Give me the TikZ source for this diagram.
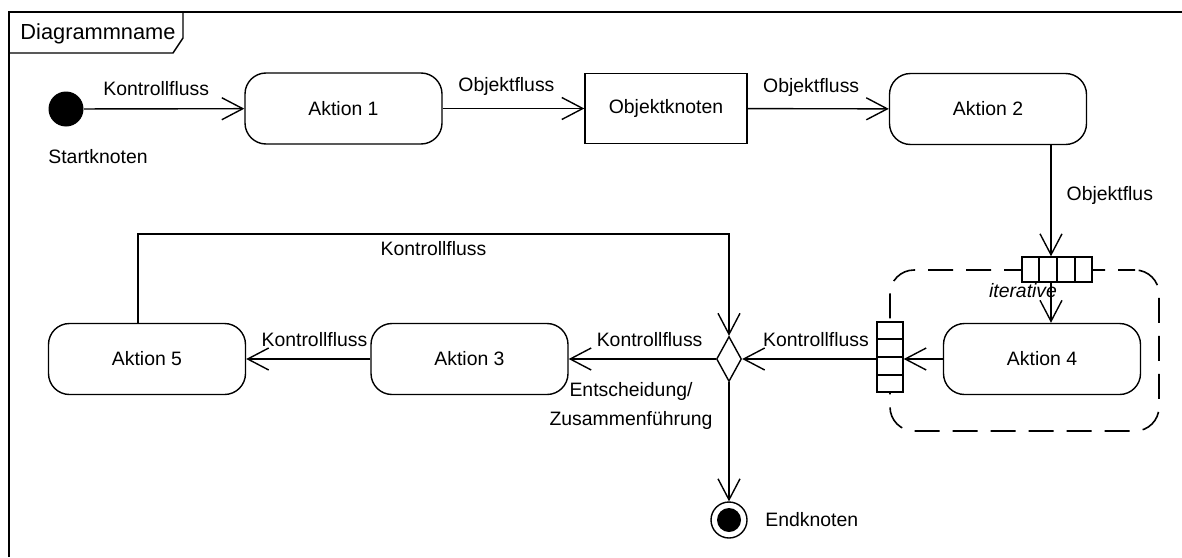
\documentclass[tikz,border=0pt]{standalone}
\usepackage{fontspec}
\setmainfont{Liberation Sans}
\usetikzlibrary{arrows.meta,shapes.geometric,calc}
\begin{document}
\begin{tikzpicture}[x=0.5pt,y=-0.5pt,
  font=\fontsize{9.7}{14.5}\selectfont,
  line width=0.7pt,
  action/.style={draw, rounded corners=10.5pt, minimum width=98.5pt, minimum height=35.5pt, inner sep=0pt},
  objnode/.style={draw, minimum width=81pt, minimum height=35pt, inner sep=0pt},
  flow/.style={-{Straight Barb[length=10.5pt,width=11pt]}},
  lbl/.style={inner sep=1.5pt},
  pinbox/.style={draw, fill=white, inner sep=0pt}]
\useasboundingbox (0,0) rectangle (1182,557);

% frame and name tab
\draw[line width=0.8pt] (9,557) -- (9,12) -- (1182,12);
\draw (9,12) -- (183,12) -- (183,38) -- (173,53) -- (9,53);
\node[font=\fontsize{10.9}{13}\selectfont] (title) at (98,34) {Diagrammname};

% start and end nodes
\node[circle, fill=black, minimum size=17.5pt, inner sep=0pt] (start) at (66,109) {};
\node (startlbl) at (98,157) {Startknoten};
\node[circle, draw, minimum size=18pt, inner sep=0pt] (end) at (729,520) {};
\node[circle, fill=black, minimum size=12pt, inner sep=0pt] (endin) at (729,520) {};
\node[anchor=west] (endlbl) at (758,520) {Endknoten};

% actions and object node
\node[action] (a1) at (343.5,108.5) {Aktion 1};
\node[objnode] (ok) at (666,108.5) {Objektknoten};
\node[action] (a2) at (988,109) {Aktion 2};
\node[action] (a4) at (1042,359) {Aktion 4};
\node[action] (a3) at (469.5,359) {Aktion 3};
\node[action] (a5) at (147,359) {Aktion 5};

% decision / merge
\node[diamond, draw, minimum width=12.5pt, minimum height=22.5pt, inner sep=0pt] (dec) at (729,359) {};
\node[align=center] (declbl) at (631,406) {Entscheidung/\\Zusammenführung};

% iterative expansion region
\node[draw, line width=0.8pt, dash pattern=on 12.5pt off 6.5pt, dash phase=4pt, rounded corners=12pt, minimum width=134.5pt, minimum height=80.5pt, inner sep=0pt] (region) at (1024.5,350.5) {};
\node[pinbox, minimum width=35pt, minimum height=12.5pt] (pinh) at (1057,269.5) {};
\node[pinbox, minimum width=13pt, minimum height=35pt] (pinv) at (890,357) {};
\foreach \f in {0.25,0.5,0.75} {
  \draw ($(pinh.north west)!\f!(pinh.north east)$) -- ($(pinh.south west)!\f!(pinh.south east)$);
  \draw ($(pinv.north west)!\f!(pinv.south west)$) -- ($(pinv.north east)!\f!(pinv.south east)$);
}
\node[font=\fontsize{9.7}{14.5}\selectfont\itshape] (itlbl) at (1023,291) {iterative};

% helper coordinates for off-centre connectors
\coordinate (flowx) at (1051,0);
\coordinate (looptop) at (138,234);

% flows
\draw[flow] (start) -- node[lbl, pos=0.45, above=4.5pt] {Kontrollfluss} (a1);
\draw[flow] (a1) -- node[lbl, pos=0.45, above=4.5pt] {Objektfluss} (ok);
\draw[flow] (ok) -- node[lbl, pos=0.45, above=4.5pt] {Objektfluss} (a2);
\draw[flow] (a2.south -| flowx) -- node[lbl, pos=0.45, right=6pt] {Objektflus} (pinh.north -| flowx);
\draw[flow] (pinh.south -| flowx) -- (a4.north -| flowx);
\draw[flow] (a4.west) -- (a4.west -| pinv.east);
\draw[flow] (pinv.west |- dec.east) -- node[lbl, pos=0.45, above=4.5pt] {Kontrollfluss} (dec.east);
\draw[flow] (a5.north -| looptop) -- (looptop) -| node[lbl, pos=0.25, below=2pt] {Kontrollfluss} (dec.north);
\draw[flow] (dec.west) -- node[lbl, pos=0.45, above=4.5pt] {Kontrollfluss} (a3.east);
\draw[flow] (a3.west) -- node[lbl, pos=0.45, above=4.5pt] {Kontrollfluss} (a5.east);
\draw[flow] (dec.south) -- (end.north);
\end{tikzpicture}
\end{document}
